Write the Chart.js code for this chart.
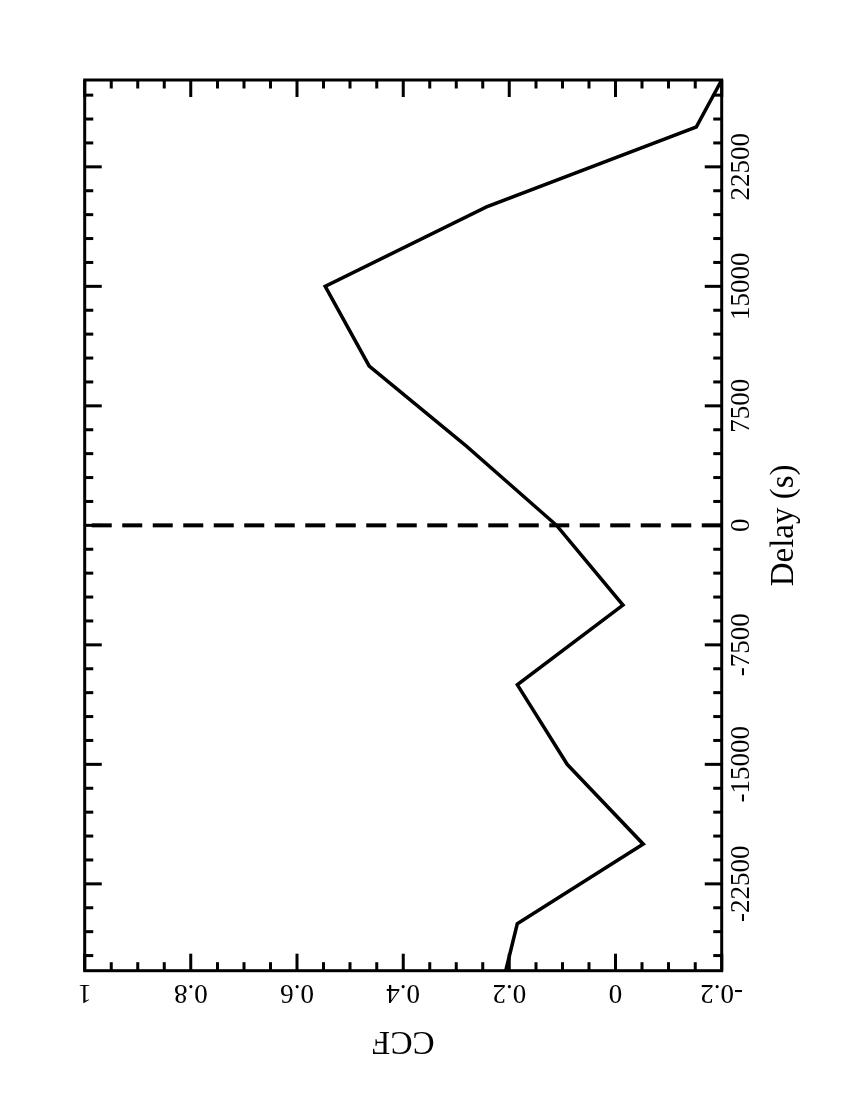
<!DOCTYPE html>
<html>
<head>
<meta charset="utf-8">
<script src="https://cdn.jsdelivr.net/npm/chart.js@4/dist/chart.umd.min.js"></script>
<style>
  html, body { margin: 0; padding: 0; background: #fff; }
  body { width: 850px; height: 1100px; overflow: hidden; position: relative; }
  /* the figure is drawn landscape and turned a quarter turn to the left */
  #wrap {
    position: absolute; left: 0; top: 0;
    width: 1100px; height: 850px;
    transform-origin: 0 0;
    transform: translate(0px, 1100px) rotate(-90deg);
  }
</style>
</head>
<body>
<div id="wrap"><canvas id="ccf" width="1100" height="850"></canvas></div>
<script>
// cross-correlation
const delays = [-27950, -25000, -20000, -15000, -10000, -5000, 0, 5000, 10000, 15000, 20000, 25000, 27950];
const ccfValues = [0.207, 0.185, -0.052, 0.091, 0.185, -0.014, 0.111, 0.282, 0.464, 0.547, 0.242, -0.152, -0.2];

// zero-delay marker
const zeroDelay = [0, 0];
const zeroLine = [-0.2, 1];

// axis ticks
const delayTicks = [-22500, -15000, -7500, 0, 7500, 15000, 22500];
const ccfTicks = [-0.2, 0, 0.2, 0.4, 0.6, 0.8, 1];
const delayMinor = 1500;
const ccfMinor = 0.05;

const serif = "'Liberation Serif', 'Times New Roman', Times, serif";

// frame plus inward ticks on all four sides
const framePlugin = {
  id: 'frameTicks',
  afterDraw(chart) {
    const { ctx, chartArea: a } = chart;
    const xs = chart.scales.x, ys = chart.scales.y;
    ctx.save();
    ctx.strokeStyle = '#000';
    ctx.lineWidth = 3;
    ctx.lineCap = 'butt';

    function xTick(v, len) {
      const p = xs.getPixelForValue(v);
      ctx.beginPath();
      ctx.moveTo(p, a.bottom); ctx.lineTo(p, a.bottom - len);
      ctx.moveTo(p, a.top); ctx.lineTo(p, a.top + len);
      ctx.stroke();
    }
    function yTick(v, len) {
      const p = ys.getPixelForValue(v);
      ctx.beginPath();
      ctx.moveTo(a.left, p); ctx.lineTo(a.left + len, p);
      ctx.moveTo(a.right, p); ctx.lineTo(a.right - len, p);
      ctx.stroke();
    }

    for (let i = Math.ceil(xs.min / delayMinor); i * delayMinor <= xs.max; i++) {
      const v = i * delayMinor;
      xTick(v, delayTicks.includes(v) ? 17 : 8.5);
    }
    for (let i = Math.ceil(ys.min / ccfMinor - 1e-6); i * ccfMinor <= ys.max + 1e-9; i++) {
      const v = Math.round(i * ccfMinor * 100) / 100;
      const major = ccfTicks.some(t => Math.abs(t - v) < 1e-9);
      yTick(v, major ? 17 : 8.5);
    }

    ctx.strokeRect(a.left, a.top, a.right - a.left, a.bottom - a.top);
    ctx.restore();
  }
};

new Chart(document.getElementById('ccf'), {
  type: 'line',
  data: {
    datasets: [
      {
        data: delays.map((d, i) => ({ x: d, y: ccfValues[i] })),
        borderColor: '#000',
        borderWidth: 3.5,
        pointRadius: 0,
        tension: 0,
        fill: false
      },
      {
        data: zeroDelay.map((d, i) => ({ x: d, y: zeroLine[i] })),
        borderColor: '#000',
        borderWidth: 4,
        borderDash: [20, 10.5],
        pointRadius: 0,
        fill: false
      }
    ]
  },
  options: {
    responsive: false,
    animation: false,
    layout: { padding: { top: 84.7, right: 80, left: 0, bottom: 0 } },
    plugins: {
      legend: { display: false },
      tooltip: { enabled: false }
    },
    scales: {
      x: {
        type: 'linear',
        position: 'bottom',
        min: -27950,
        max: 27950,
        afterBuildTicks: s => { s.ticks = delayTicks.map(v => ({ value: v })); },
        afterFit: s => { s.height = 128.3; },
        grid: { display: false, drawTicks: false },
        border: { display: false },
        ticks: {
          maxRotation: 0,
          minRotation: 0,
          padding: 4,
          color: '#000',
          font: { family: serif, size: 27 },
          callback: v => String(v)
        },
        title: {
          display: true,
          text: 'Delay (s)',
          color: '#000',
          font: { family: serif, size: 33 },
          padding: { top: 0, bottom: 46 }
        }
      },
      y: {
        type: 'linear',
        position: 'left',
        min: -0.2,
        max: 1,
        afterBuildTicks: s => { s.ticks = ccfTicks.map(v => ({ value: v })); },
        afterFit: s => { s.width = 129.3; },
        grid: { display: false, drawTicks: false },
        border: { display: false },
        ticks: {
          minRotation: 90,
          maxRotation: 90,
          crossAlign: 'center',
          padding: 0,
          color: '#000',
          font: { family: serif, size: 27 },
          callback: v => String(v)
        },
        title: {
          display: true,
          text: 'CCF',
          color: '#000',
          font: { family: serif, size: 33 },
          padding: { top: 39.4, bottom: 0 }
        }
      }
    }
  },
  plugins: [framePlugin]
});
</script>
</body>
</html>
